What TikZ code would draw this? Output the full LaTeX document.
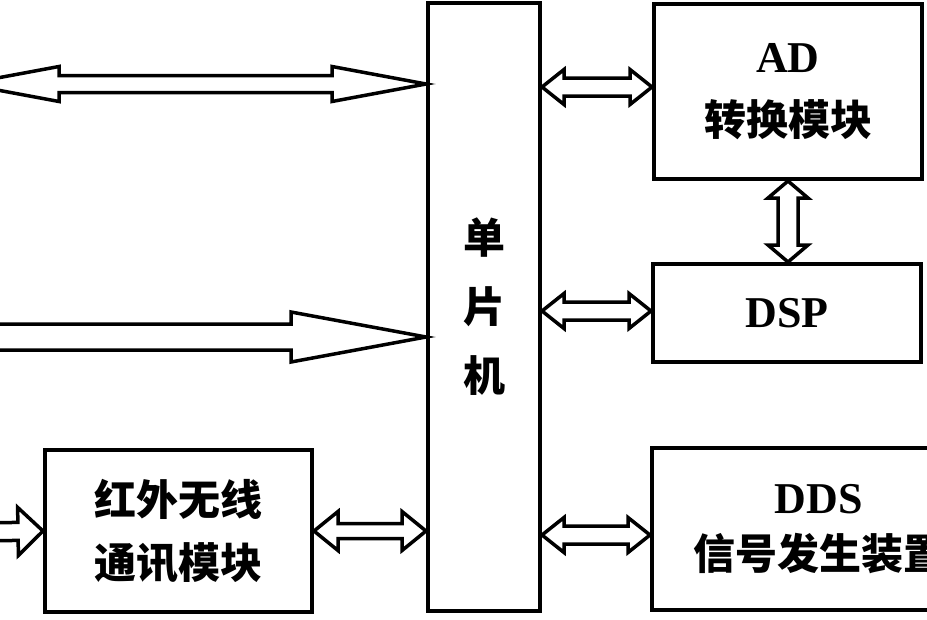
\documentclass[tikz,border=0pt]{standalone}
\usepackage{fontspec}
\setmainfont{Liberation Serif}
\newfontfamily\cjk{Noto Sans CJK SC}
\usetikzlibrary{calc}

% hollow block arrows: from, to, half shaft, half head, head length
\newcommand{\dualarrow}[5]{%
  \draw[arrowline] (#1)
    -- ($(#1)!#5!(#2)!#4!90:(#2)$) -- ($(#1)!#5!(#2)!#3!90:(#2)$)
    -- ($(#2)!#5!(#1)!#3!-90:(#1)$) -- ($(#2)!#5!(#1)!#4!-90:(#1)$)
    -- (#2)
    -- ($(#2)!#5!(#1)!#4!90:(#1)$) -- ($(#2)!#5!(#1)!#3!90:(#1)$)
    -- ($(#1)!#5!(#2)!#3!-90:(#2)$) -- ($(#1)!#5!(#2)!#4!-90:(#2)$)
    -- cycle;}
\newcommand{\monoarrow}[5]{%
  \draw[arrowline] ($(#1)!#3!90:(#2)$)
    -- ($(#2)!#5!(#1)!#3!-90:(#1)$) -- ($(#2)!#5!(#1)!#4!-90:(#1)$)
    -- (#2)
    -- ($(#2)!#5!(#1)!#4!90:(#1)$) -- ($(#2)!#5!(#1)!#3!90:(#1)$)
    -- ($(#1)!#3!-90:(#2)$) -- cycle;}

\begin{document}
\begin{tikzpicture}[x=1pt,y=-1pt,
  block/.style={draw,line width=4pt,align=center,font=\fontsize{42}{63}\selectfont\cjk\bfseries},
  latin/.style={font=\fontsize{44}{63}\selectfont\rmfamily\bfseries},
  arrowline/.style={line width=3.5pt,line join=miter}]
\useasboundingbox (0,0) rectangle (927,619);
\node[block,minimum width=112pt,minimum height=608pt,font=\fontsize{42}{69}\selectfont\cjk\bfseries] (mcu) at (484,307) {单\\片\\机};
\node[block,minimum width=268pt,minimum height=175pt] (ad) at (788,91.5) {{\fontsize{44}{63}\selectfont\rmfamily AD}\\转换模块};
\node[block,latin,minimum width=268pt,minimum height=98pt] (dsp) at (787,313) {DSP};
\node[block,minimum width=334pt,minimum height=162pt,font=\fontsize{42}{56}\selectfont\cjk\bfseries] (dds) at (819,529) {{\fontsize{44}{56}\selectfont\rmfamily DDS}\\信号发生装置};
\node[block,minimum width=267pt,minimum height=162pt] (ir) at (178.5,531) {红外无线\\通讯模块};
% free ends and ports
\coordinate (in1) at (-35,84);
\coordinate (m1) at (mcu.west |- 0,84);
\coordinate (in2) at (-20,337);
\coordinate (m2) at (mcu.west |- 0,337);
\coordinate (in3) at (-20,532);
\coordinate (m3) at (mcu.west |- ir.west);
\coordinate (m4) at (mcu.east |- 0,87);
\coordinate (a4) at (ad.west |- 0,87);
\coordinate (m6) at (mcu.east |- 0,311);
\coordinate (d6) at (dsp.west |- 0,311);
\coordinate (m7) at (mcu.east |- 0,535);
\coordinate (s7) at (dds.west |- 0,535);
\coordinate (d8) at (dsp.north -| ad.south);
% arrows
\dualarrow{in1}{m1}{8.5pt}{17.5pt}{94pt}
\monoarrow{in2}{m2}{13pt}{25pt}{135pt}
\monoarrow{in3}{ir.west}{9pt}{24pt}{25pt}
\dualarrow{ir.east}{m3}{7.5pt}{19.5pt}{24pt}
\dualarrow{m4}{a4}{9pt}{17.5pt}{22pt}
\dualarrow{m6}{d6}{9pt}{17.5pt}{22pt}
\dualarrow{m7}{s7}{9pt}{17.5pt}{22pt}
\dualarrow{ad.south}{d8}{10pt}{20pt}{17pt}
\end{tikzpicture}
\end{document}
